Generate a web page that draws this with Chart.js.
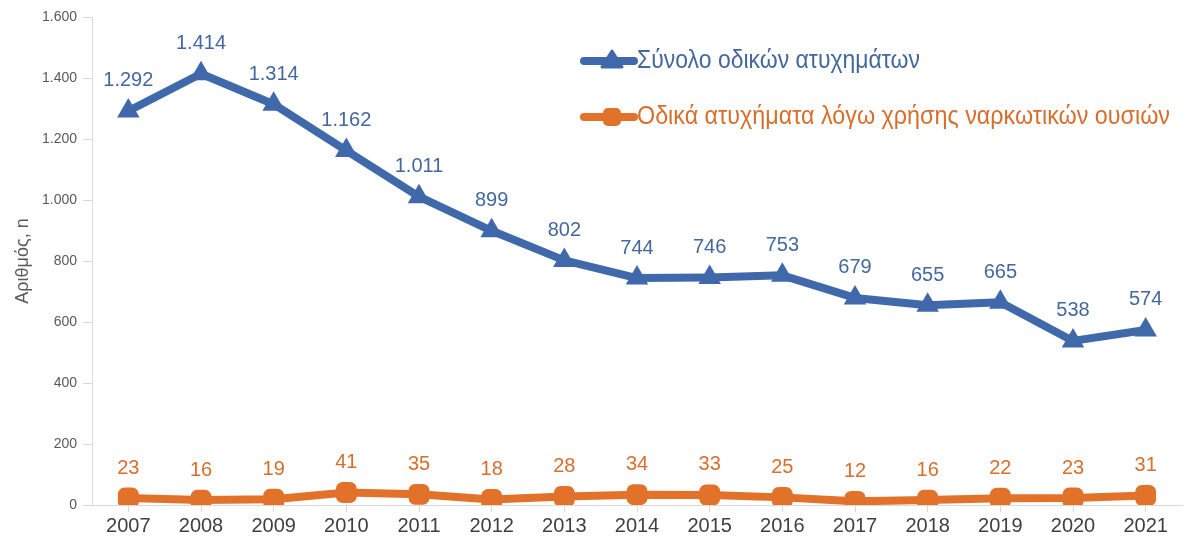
<!DOCTYPE html>
<html><head><meta charset="utf-8">
<script src="https://cdn.jsdelivr.net/npm/chart.js@4.4.1/dist/chart.umd.min.js"></script>
<style>html,body{margin:0;padding:0;background:#fff}#wrap{width:1195px;height:549px}</style>
</head><body><div id="wrap"><canvas id="c" width="1195" height="549"></canvas></div>
<script>
const years = ['2007','2008','2009','2010','2011','2012','2013','2014','2015','2016','2017','2018','2019','2020','2021'];
const totalAccidents = [1292,1414,1314,1162,1011,899,802,744,746,753,679,655,665,538,574];
const drugAccidents = [23,16,19,41,35,18,28,34,33,25,12,16,22,23,31];
const seriesNames = ['Σύνολο οδικών ατυχημάτων','Οδικά ατυχήματα λόγω χρήσης ναρκωτικών ουσιών'];
const yTicks = [0,200,400,600,800,1000,1200,1400,1600];
const BLUE='#3F69AA', ORANGE='#E2712A';
const fmt = v => String(v).replace(/\B(?=(\d{3})+(?!\d))/g,'.');

const labelsPlugin = {
  id:'pointLabels',
  afterDatasetsDraw(chart){
    const ctx=chart.ctx;
    chart.data.datasets.forEach((ds,i)=>{
      const meta=chart.getDatasetMeta(i);
      ctx.save();
      ctx.font='20px "Liberation Sans", Arial, sans-serif';
      ctx.fillStyle=ds.labelColor;
      ctx.textAlign='center';ctx.textBaseline='middle';
      meta.data.forEach((pt,j)=>{ctx.fillText(fmt(ds.data[j]),pt.x,pt.y-30);});
      ctx.restore();
    });
  }
};
const legendPlugin = {
  id:'customLegend',
  afterDraw(chart){
    const ctx=chart.ctx;
    const rows=[{y:61,ds:chart.data.datasets[0]},{y:117,ds:chart.data.datasets[1]}];
    rows.forEach(r=>{
      ctx.save();
      ctx.strokeStyle=r.ds.borderColor;ctx.lineWidth=8;ctx.lineCap='round';
      ctx.beginPath();ctx.moveTo(584,r.y);ctx.lineTo(634,r.y);ctx.stroke();
      ctx.fillStyle=r.ds.borderColor;
      if(r.ds.pointStyle==='triangle'){
        ctx.beginPath();ctx.moveTo(612,r.y-10);ctx.lineTo(622,r.y+6);ctx.lineTo(602,r.y+6);ctx.closePath();
        ctx.lineJoin='round';ctx.lineWidth=3;ctx.fill();ctx.stroke();
      } else {
        ctx.beginPath();ctx.roundRect(603,r.y-9,18,18,5);ctx.fill();
      }
      ctx.font='25px "Liberation Sans", Arial, sans-serif';
      ctx.textAlign='left';ctx.textBaseline='middle';
      ctx.fillStyle=r.ds.labelColor;
      const w=ctx.measureText(r.ds.label).width;
      const target = r.ds.legendWidth;
      ctx.translate(637,r.y);ctx.scale(target/w,1);
      ctx.fillText(r.ds.label,0,0);
      ctx.restore();
    });
  }
};

new Chart(document.getElementById('c'),{
  type:'line',
  data:{labels:years,datasets:[
    {label:seriesNames[0],data:totalAccidents,borderColor:BLUE,backgroundColor:BLUE,labelColor:'#44689E',legendWidth:283,
     borderWidth:8,pointStyle:'triangle',pointRadius:10,pointHoverRadius:10,pointBorderWidth:3,
     borderJoinStyle:'round',borderCapStyle:'round',tension:0},
    {label:seriesNames[1],data:drugAccidents,borderColor:ORANGE,backgroundColor:ORANGE,labelColor:'#D86E2C',legendWidth:533,
     borderWidth:8,pointStyle:'rectRounded',pointRadius:11,pointHoverRadius:11,pointBorderWidth:2,
     borderJoinStyle:'round',borderCapStyle:'round',tension:0}
  ]},
  options:{
    responsive:false,animation:false,devicePixelRatio:1,
    layout:{padding:{top:17,right:5,left:12,bottom:0}},
    plugins:{legend:{display:false},tooltip:{enabled:false}},
    scales:{
      x:{
        offset:true,
        grid:{display:true,drawOnChartArea:false,offset:false,color:'#D9D9D9',tickLength:7},
        border:{color:'#D9D9D9',width:1},
        ticks:{color:'#404040',font:{size:20,family:'"Liberation Sans", Arial, sans-serif'},padding:2,maxRotation:0},
        afterFit(s){s.height=44;}
      },
      y:{
        min:0,max:1600,
        afterBuildTicks(s){s.ticks=yTicks.map(v=>({value:v}));},
        grid:{display:true,drawOnChartArea:false,color:'#D9D9D9',tickLength:9},
        border:{color:'#D9D9D9',width:1},
        ticks:{color:'#595959',font:{size:14,family:'"Liberation Sans", Arial, sans-serif'},padding:6,callback:v=>fmt(v)},
        title:{display:true,text:'Αριθμός, n',color:'#595959',font:{size:18,family:'"Liberation Sans", Arial, sans-serif'},padding:{top:0,bottom:0}},
        afterFit(s){s.width=80;}
      }
    }
  },
  plugins:[labelsPlugin,legendPlugin]
});
</script></body></html>
